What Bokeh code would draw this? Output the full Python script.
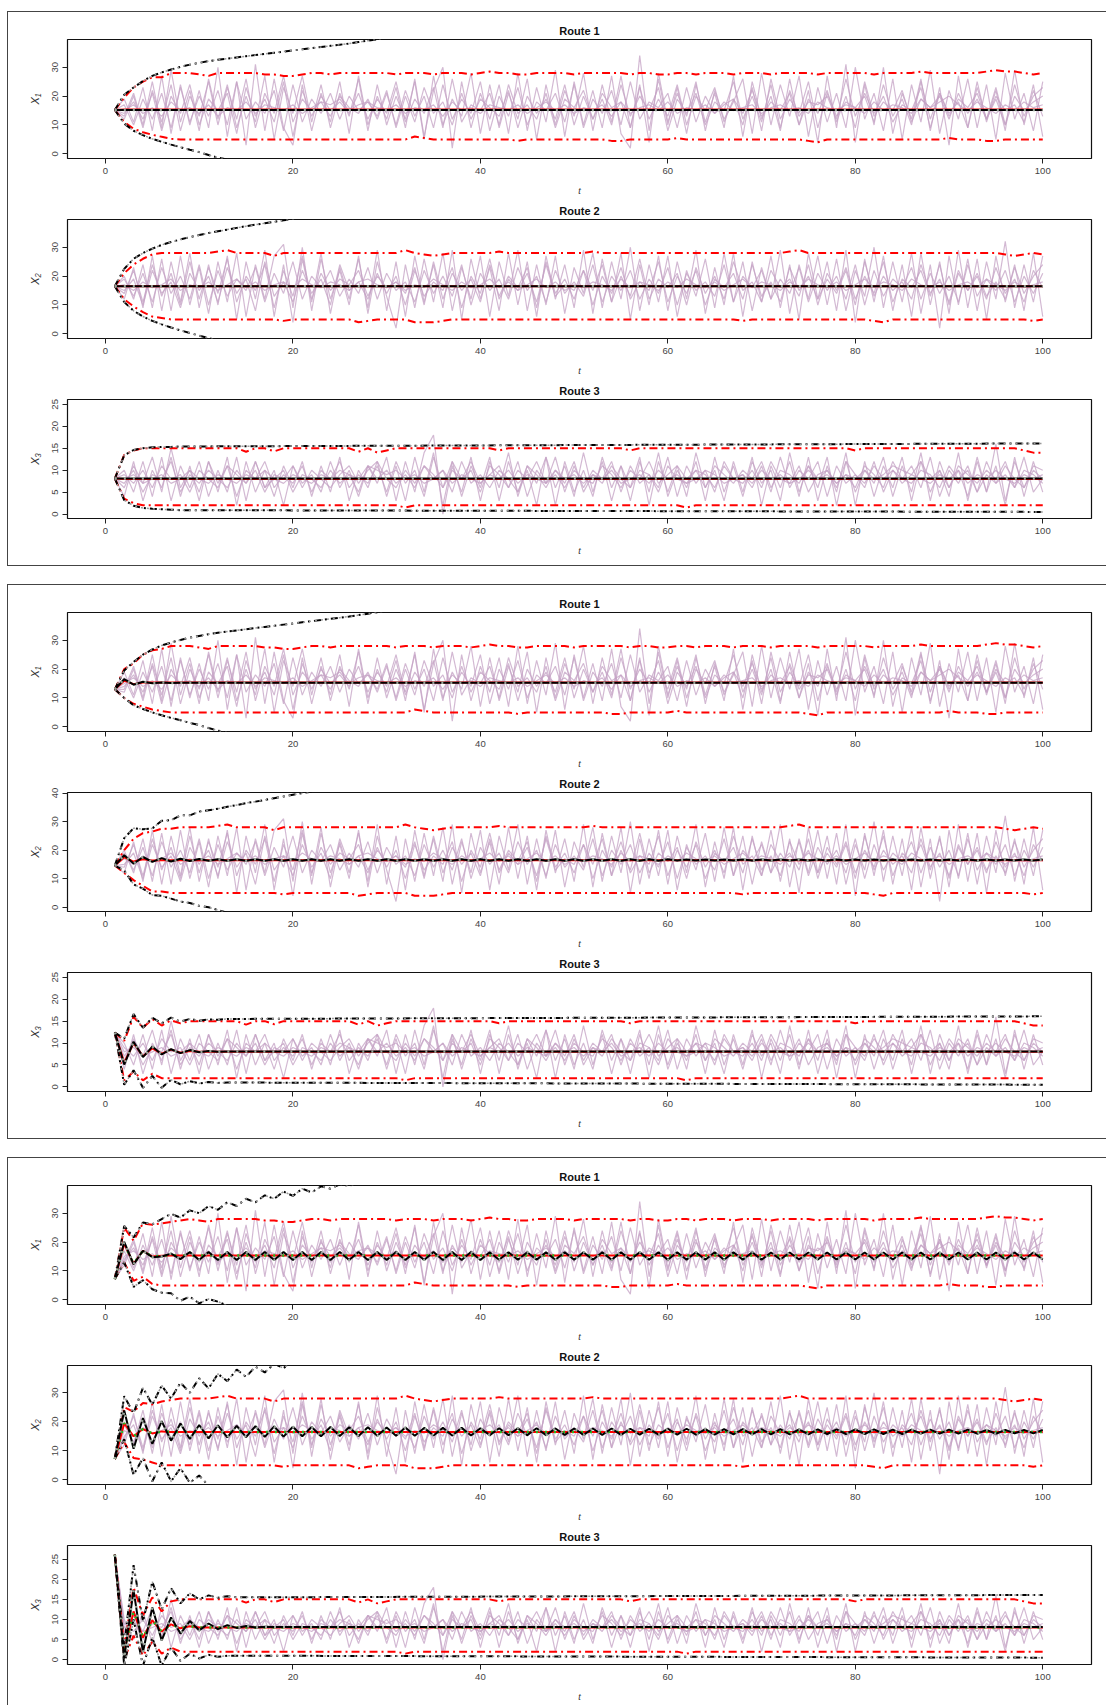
from bokeh.plotting import figure
from bokeh.models import Range1d, FixedTicker, Column
from bokeh.embed import file_html
from bokeh.resources import INLINE

# ---------------- data ----------------
t_ticks = [0, 20, 40, 60, 80, 100]
route_titles = ["Route 1", "Route 2", "Route 3"]
y_labels = ["X\u2081", "X\u2082", "X\u2083"]
y_ticks = [[[0, 10, 20, 30], [0, 10, 20, 30], [0, 5, 10, 15, 20, 25]],
           [[0, 10, 20, 30], [0, 10, 20, 30, 40], [0, 5, 10, 15, 20, 25]],
           [[0, 10, 20, 30], [0, 10, 20, 30], [0, 5, 10, 15, 20, 25]]]
y_ranges = [[(-1.6, 39.6), (-1.6, 39.6), (-1.0, 26.1)],
            [(-1.6, 39.6), (-1.5, 40.2), (-1.05, 26.1)],
            [(-1.6, 39.6), (-1.6, 39.4), (-1.2, 28.4)]]

# initial state at t = 1 (panel x route)
x0 = [[15.2, 16.5, 8.1],
      [13.0, 14.6, 12.4],
      [7.2, 7.2, 26.1]]

# observed trajectories, t = 2..100 (shared by the three panels)
pink_r1 = [
    [19, 11, 23, 8, 27, 7, 24, 10, 22, 9, 30, 6, 25, 3, 31, 8, 26, 9, 3, 24,
     8, 21, 11, 25, 7, 27, 10, 20, 12, 23, 9, 26, 6, 22, 30, 2, 25, 9, 21, 12,
     24, 7, 28, 8, 23, 11, 29, 6, 25, 10, 22, 9, 27, 7, 2, 34, 8, 26, 10, 23,
     7, 24, 11, 21, 9, 27, 6, 25, 12, 20, 8, 26, 10, 22, 4, 27, 9, 31, 4, 24,
     10, 30, 7, 21, 12, 26, 8, 23, 3, 27, 9, 25, 11, 22, 8, 29, 10, 24, 6],
    [12, 20, 9, 22, 11, 24, 8, 20, 13, 25, 10, 23, 12, 26, 9, 21, 14, 27, 11, 19,
     15, 18, 13, 20, 16, 14, 19, 12, 21, 10, 22, 13, 20, 9, 24, 12, 19, 14, 25, 8,
     20, 13, 23, 10, 18, 15, 21, 11, 24, 9, 19, 14, 22, 10, 25, 12, 18, 16, 21, 9,
     23, 11, 20, 14, 17, 19, 10, 23, 8, 26, 12, 19, 14, 25, 9, 21, 13, 18, 16, 20,
     11, 24, 13, 19, 10, 25, 12, 21, 14, 18, 9, 23, 12, 20, 15, 17, 11, 22, 13],
    [15, 17, 14, 16, 13, 18, 15, 16, 14, 17, 13, 16, 15, 18, 14, 17, 16, 15, 17, 14,
     16, 18, 17, 19, 15, 17, 18, 16, 15, 17, 14, 16, 15, 17, 13, 18, 15, 16, 14, 17,
     16, 15, 17, 14, 16, 18, 15, 17, 14, 16, 15, 17, 13, 18, 14, 16, 17, 15, 18, 14,
     16, 15, 17, 14, 18, 15, 16, 17, 14, 16, 17, 15, 16, 14, 18, 16, 15, 17, 16, 14,
     18, 15, 17, 16, 14, 19, 16, 18, 20, 17, 15, 18, 16, 14, 17, 15, 18, 16, 17],
    [13, 21, 10, 25, 9, 29, 11, 22, 8, 26, 12, 24, 9, 20, 11, 27, 5, 23, 14, 27,
     11, 24, 9, 21, 13, 26, 8, 24, 10, 20, 12, 25, 5, 27, 10, 19, 13, 28, 7, 24,
     9, 21, 12, 26, 5, 24, 10, 22, 13, 28, 8, 24, 11, 27, 9, 24, 4, 28, 11, 21,
     13, 25, 8, 22, 12, 18, 26, 7, 28, 10, 24, 13, 27, 6, 23, 11, 21, 9, 30, 12,
     21, 8, 26, 5, 24, 11, 29, 7, 22, 12, 26, 9, 24, 5, 28, 12, 21, 8, 25],
    [17, 10, 19, 12, 21, 9, 23, 11, 20, 13, 22, 10, 25, 12, 18, 14, 22, 8, 24, 11,
     19, 14, 21, 12, 20, 15, 18, 13, 22, 9, 20, 11, 23, 14, 18, 10, 21, 12, 19, 16,
     13, 22, 9, 20, 14, 19, 12, 24, 10, 20, 12, 21, 16, 18, 9, 23, 12, 19, 13, 24,
     10, 20, 15, 23, 11, 19, 14, 22, 13, 18, 15, 21, 10, 19, 14, 22, 11, 20, 9, 25,
     13, 18, 15, 22, 11, 19, 16, 20, 12, 21, 14, 19, 12, 23, 10, 20, 15, 18, 20],
    [14, 18, 12, 21, 8, 20, 14, 24, 10, 19, 15, 21, 7, 23, 13, 19, 11, 25, 6, 22,
     13, 20, 15, 18, 14, 21, 12, 19, 14, 25, 11, 19, 14, 23, 9, 26, 11, 17, 15, 21,
     10, 24, 14, 17, 12, 21, 9, 19, 16, 22, 12, 19, 10, 24, 13, 20, 15, 23, 8, 19,
     14, 21, 10, 18, 15, 25, 12, 20, 11, 24, 9, 22, 13, 18, 17, 20, 12, 26, 13, 21,
     14, 20, 11, 17, 15, 23, 9, 21, 13, 19, 16, 21, 12, 19, 10, 24, 13, 20, 23],
]
pink_r2 = [
    [20, 12, 24, 9, 26, 8, 27, 10, 23, 7, 25, 11, 28, 6, 24, 12, 27, 31, 9, 30,
     8, 26, 12, 22, 10, 27, 7, 25, 13, 2, 24, 9, 26, 11, 28, 8, 23, 12, 27, 6,
     25, 13, 29, 8, 24, 10, 27, 7, 23, 14, 28, 9, 25, 12, 30, 8, 24, 11, 27, 6,
     22, 13, 26, 9, 28, 11, 25, 8, 23, 12, 29, 7, 24, 12, 27, 10, 26, 8, 22, 13,
     30, 9, 25, 11, 28, 7, 24, 2, 27, 10, 26, 8, 25, 12, 32, 9, 24, 11, 27],
    [14, 22, 11, 24, 13, 21, 10, 25, 12, 23, 14, 26, 11, 20, 15, 24, 9, 22, 13, 27,
     12, 21, 15, 19, 17, 22, 13, 20, 16, 18, 14, 23, 10, 25, 12, 21, 15, 19, 11, 24,
     13, 20, 16, 23, 9, 25, 14, 19, 12, 22, 15, 24, 11, 20, 13, 26, 12, 19, 16, 21,
     10, 23, 14, 20, 12, 25, 15, 18, 11, 22, 16, 19, 13, 24, 10, 21, 15, 23, 12, 20,
     14, 25, 11, 19, 16, 22, 13, 24, 10, 21, 15, 20, 12, 23, 14, 19, 11, 22, 16],
    [17, 15, 18, 16, 17, 19, 15, 17, 16, 18, 15, 17, 19, 16, 18, 15, 17, 18, 16, 19,
     17, 16, 18, 17, 15, 18, 19, 17, 16, 18, 15, 17, 16, 19, 17, 15, 18, 16, 17, 19,
     16, 18, 15, 17, 19, 16, 18, 15, 17, 16, 18, 17, 15, 19, 16, 18, 17, 15, 18, 16,
     19, 17, 16, 18, 15, 17, 19, 16, 18, 17, 15, 18, 16, 19, 17, 16, 18, 15, 17, 19,
     16, 18, 17, 15, 19, 17, 16, 18, 15, 17, 18, 16, 19, 17, 15, 18, 16, 17, 18],
    [12, 23, 9, 27, 8, 25, 11, 28, 9, 24, 10, 27, 5, 25, 12, 29, 6, 24, 4, 26,
     11, 28, 7, 23, 12, 26, 9, 29, 8, 25, 6, 27, 11, 24, 9, 29, 5, 26, 12, 23,
     8, 28, 10, 25, 6, 27, 12, 24, 9, 29, 7, 26, 11, 28, 5, 24, 10, 27, 8, 25,
     12, 29, 7, 23, 10, 28, 6, 25, 11, 27, 9, 24, 5, 28, 12, 25, 8, 29, 4, 26,
     11, 27, 8, 24, 6, 28, 10, 25, 7, 29, 9, 26, 5, 27, 11, 24, 8, 28, 6],
    [19, 13, 21, 11, 23, 14, 20, 12, 24, 10, 22, 13, 19, 15, 23, 11, 21, 14, 25, 12,
     20, 16, 22, 13, 19, 14, 23, 12, 21, 15, 18, 11, 22, 14, 20, 13, 24, 10, 21, 15,
     19, 12, 23, 15, 20, 11, 22, 14, 18, 13, 24, 11, 20, 15, 22, 12, 19, 14, 23, 10,
     21, 15, 18, 13, 24, 11, 20, 16, 22, 12, 19, 14, 23, 11, 21, 15, 20, 12, 24, 10,
     22, 13, 19, 16, 23, 12, 21, 14, 20, 11, 24, 13, 19, 15, 22, 11, 20, 14, 21],
    [15, 19, 10, 22, 14, 18, 9, 21, 15, 20, 11, 23, 14, 19, 8, 25, 13, 18, 11, 22,
     14, 19, 10, 24, 15, 18, 12, 21, 14, 20, 10, 22, 13, 18, 15, 23, 9, 20, 14, 26,
     12, 19, 15, 21, 11, 24, 13, 17, 15, 22, 10, 20, 14, 23, 12, 18, 15, 25, 11, 20,
     14, 22, 10, 19, 16, 21, 12, 24, 13, 18, 11, 23, 15, 20, 12, 19, 14, 22, 10, 25,
     13, 20, 15, 18, 12, 24, 14, 19, 11, 22, 15, 21, 13, 18, 12, 23, 14, 20, 24],
]
pink_r3 = [
    [10, 5, 12, 4, 13, 3, 11, 6, 12, 4, 10, 5, 13, 3, 12, 6, 10, 2, 11, 7,
     9, 5, 12, 6, 10, 4, 11, 7, 13, 3, 12, 5, 14, 18, 0, 11, 5, 13, 3, 12,
     6, 14, 4, 11, 7, 13, 2, 12, 5, 10, 4, 13, 6, 11, 3, 12, 5, 14, 4, 10,
     6, 12, 3, 13, 5, 11, 4, 12, 7, 10, 3, 14, 5, 11, 6, 13, 2, 12, 5, 10,
     7, 13, 4, 11, 5, 14, 3, 12, 6, 10, 4, 13, 5, 16, 3, 12, 6, 11, 10],
    [6, 11, 7, 13, 5, 15, 6, 10, 5, 12, 7, 11, 4, 10, 8, 12, 6, 9, 7, 11,
     5, 10, 8, 12, 6, 9, 7, 11, 5, 12, 7, 10, 4, 13, 6, 12, 8, 10, 5, 11,
     9, 6, 12, 4, 10, 7, 13, 5, 11, 6, 10, 8, 12, 5, 11, 7, 9, 6, 13, 4,
     11, 7, 10, 5, 12, 8, 9, 6, 11, 5, 13, 6, 10, 8, 12, 4, 11, 7, 9, 6,
     12, 5, 10, 8, 11, 6, 13, 4, 10, 7, 11, 5, 12, 7, 9, 6, 13, 5, 8],
    [8, 9, 7, 8, 9, 7, 8, 10, 8, 7, 9, 8, 7, 9, 8, 10, 8, 7, 9, 8,
     7, 9, 8, 10, 9, 8, 11, 10, 9, 10, 8, 9, 7, 8, 10, 7, 9, 8, 7, 9,
     8, 10, 7, 9, 8, 7, 10, 8, 9, 7, 9, 8, 10, 7, 8, 9, 7, 10, 8, 9,
     7, 8, 10, 9, 7, 8, 9, 7, 10, 8, 9, 7, 8, 10, 8, 9, 7, 9, 8, 10,
     8, 9, 11, 10, 9, 8, 7, 9, 8, 10, 7, 9, 8, 10, 8, 7, 9, 8, 9],
    [4, 12, 3, 10, 6, 13, 4, 11, 3, 12, 5, 13, 2, 12, 5, 10, 4, 11, 6, 12,
     4, 11, 5, 13, 3, 10, 6, 12, 4, 11, 3, 13, 5, 14, 2, 12, 4, 11, 6, 13,
     3, 12, 5, 10, 2, 13, 6, 11, 4, 14, 5, 12, 3, 11, 6, 13, 2, 12, 5, 11,
     4, 14, 6, 10, 3, 12, 5, 13, 2, 11, 6, 12, 4, 13, 3, 11, 5, 14, 2, 12,
     4, 11, 6, 13, 3, 12, 5, 10, 4, 14, 3, 12, 5, 11, 2, 13, 4, 12, 5],
    [9, 7, 10, 6, 11, 8, 9, 5, 10, 8, 6, 11, 9, 7, 10, 5, 9, 8, 11, 6,
     10, 8, 6, 9, 11, 7, 10, 12, 8, 6, 10, 7, 11, 9, 6, 10, 8, 12, 7, 9,
     11, 6, 10, 8, 12, 7, 9, 6, 10, 8, 7, 11, 9, 6, 10, 8, 12, 7, 9, 11,
     8, 10, 6, 11, 9, 7, 10, 8, 12, 6, 10, 9, 7, 11, 8, 10, 6, 12, 9, 7,
     11, 8, 10, 7, 9, 12, 8, 10, 6, 11, 9, 7, 10, 8, 12, 6, 10, 9, 7],
    [7, 10, 5, 9, 8, 12, 5, 9, 7, 10, 8, 6, 10, 7, 12, 6, 8, 10, 5, 9,
     8, 6, 10, 7, 9, 5, 11, 8, 10, 7, 9, 6, 11, 8, 10, 5, 12, 7, 9, 6,
     10, 8, 5, 11, 9, 6, 10, 7, 12, 5, 9, 7, 11, 8, 6, 10, 9, 5, 11, 8,
     7, 10, 9, 6, 11, 8, 7, 10, 6, 12, 8, 7, 11, 5, 9, 10, 7, 9, 6, 11,
     9, 6, 12, 8, 7, 10, 9, 6, 11, 8, 10, 5, 9, 7, 11, 8, 6, 10, 8],
]
pink = [pink_r1, pink_r2, pink_r3]

# empirical quantile bands: t = 1..8 per panel, then shared t = 9..100
red_up_head = [
    [[15.2, 19.5, 23, 25, 26.5, 26.5, 28, 28], [16.5, 21, 24, 26, 27.5, 28, 28, 28], [8.1, 13.5, 14.5, 15, 15, 15, 15, 15]],
    [[13, 20, 22, 25, 26.5, 27, 28, 28], [14.6, 20, 24, 26, 26.5, 27.5, 27.5, 28], [12.4, 10.5, 16, 13.5, 15.5, 14, 15.2, 14.5]],
    [[7.2, 25, 20.5, 26.5, 26, 26.5, 27, 27.5], [7.2, 25, 23.5, 26.5, 26, 27, 27.5, 28], [26.1, 3, 18, 11, 15.5, 12, 14.5, 15]],
]
red_lo_head = [
    [[15.2, 11, 8.7, 7.5, 6.6, 5.9, 5.2, 5], [16.5, 12, 9.5, 7.5, 6, 5.5, 5, 5], [8.1, 3.5, 2.5, 2, 2, 2, 2, 2]],
    [[13, 10, 8, 7, 6, 5.5, 5, 5], [14.6, 12, 9.5, 7.5, 5.5, 5.5, 5, 5], [12.4, 1.5, 3.5, 1.5, 3, 2, 2, 2]],
    [[7.2, 13, 6.6, 8, 5.5, 5, 5, 5], [7.2, 13, 7.5, 7, 6, 5, 5, 5], [26.1, 0, 6, 1, 4.5, 1.5, 3, 2]],
]
red_up_tail = [
    [28, 27.5, 27, 28, 28, 28, 28, 28, 27.5, 27.5, 27, 27, 27.5, 28, 28, 27.5, 28, 28, 28, 28,
     28, 28, 27.5, 28, 28, 28, 27.5, 28, 28, 28, 27.5, 28, 28.5, 28, 28, 27.5, 27.5, 28, 28, 28,
     28, 27.5, 28, 28, 28, 28, 28, 27.5, 28, 28, 27.5, 27.5, 28, 28, 27.5, 28, 28, 28, 27.5, 28,
     28, 28, 27.5, 28, 28, 28, 28, 27.5, 28, 28, 28, 28, 28, 27.5, 28, 28, 28, 28, 28.5, 28,
     28, 28, 28, 28, 28, 28.5, 29, 28.5, 28.5, 28, 27.5, 28],
    [28, 28, 28, 28.5, 29, 28, 28, 28, 28, 27, 28, 28, 28, 28, 28, 28, 28, 28, 28, 28,
     28, 28, 28, 29, 28, 27.5, 27, 27.5, 28, 28, 28, 28, 28, 28.5, 28, 28, 28, 28, 28, 28,
     28, 28, 28, 28.5, 28, 28, 28, 28, 28, 28, 28, 28, 28, 28, 28, 28, 28, 28, 28, 28,
     28, 28, 28, 28, 28.5, 29, 28, 28, 28, 28, 28, 28, 28, 28, 28, 28, 28, 28, 28, 28,
     28, 28, 28, 28, 28, 28, 28, 27.5, 27, 27.5, 28, 27.5],
    [15, 15, 15, 15, 15, 15, 14.2, 15, 15, 14.3, 15, 15, 15, 15, 15, 15, 15, 15, 14.2, 15,
     14, 14.5, 15, 15, 15, 15, 15, 15, 15, 15, 15, 15, 15, 14.5, 15, 15, 15, 15, 15, 15,
     15, 15, 15, 15, 15, 15, 15, 14.5, 15, 15, 15, 15, 15, 15, 15, 15, 15, 15, 15, 15,
     15, 15, 15, 15, 15, 15, 15, 15, 15, 15, 15, 14.5, 15, 15, 15, 15, 15, 15, 15, 15,
     15, 15, 15, 15, 15, 15, 15, 15, 15, 14.5, 14, 14],
]
red_lo_tail = [
    [5, 5, 5, 5, 5, 5, 5, 5, 5, 5, 5, 5, 5, 5, 5, 5, 5, 5, 5, 5,
     5, 5, 5, 5, 6, 5.5, 5, 5, 5, 5, 5, 5, 5, 5, 5, 4.5, 5, 5, 5, 5,
     5, 5, 5, 5, 5, 4.5, 4.5, 5, 5, 5, 5, 5, 5.5, 5, 5, 5, 5, 5, 5, 5,
     5, 5, 5, 5, 5, 5, 4.5, 4, 5, 5, 5, 5, 5, 5, 5, 5, 5, 5, 5, 5,
     5, 5.5, 5, 5, 5, 4.5, 4.5, 5, 5, 5, 5, 5],
    [5, 5, 5, 5, 5, 5, 5, 5, 5, 5, 4.5, 5, 5, 5, 5, 5, 5, 5, 4, 4.5,
     5, 5, 5, 5, 4, 4, 4, 4.5, 5, 5, 5, 5, 5, 5, 5, 5, 5, 5, 5, 5,
     5, 5, 5, 5, 5, 5, 5, 5, 5, 5, 5, 5, 5, 5, 5, 5, 5, 5, 5, 4.5,
     5, 5, 5, 5, 5, 5, 5, 5, 5, 5, 5, 5, 5, 4.5, 4, 5, 5, 5, 5, 5,
     5, 5, 5, 5, 5, 5, 5, 5, 5, 5, 4.5, 5],
    [2, 2, 2, 2, 2, 2, 2, 2, 2, 2, 2, 2, 2, 2, 2, 2, 2, 2, 2, 2,
     2, 2, 2, 1.5, 2, 2, 2, 2, 2, 2, 2, 2, 2, 2, 2, 2, 2, 2, 2, 2,
     2, 2, 2, 2, 2, 2, 2, 2, 2, 2, 2, 2, 2, 1.5, 2, 2, 2, 2, 2, 2,
     2, 2, 2, 2, 2, 2, 2, 2, 2, 2, 2, 2, 2, 2, 2, 2, 2, 2, 2, 2,
     2, 2, 2, 2, 2, 2, 2, 2, 2, 2, 2, 2],
]
# empirical mean: early values per panel, then a level held to t = 100
red_mean_head = [
    [[15.2], [16.5], [8.1]],
    [[13, 16, 14.8, 15.4], [14.6, 17.5, 16, 16.8, 16.4], [12.4, 5.5, 10, 7, 8.8, 7.6, 8.5, 7.8, 8.2]],
    [[7.2, 19.5, 12.5, 17, 15, 15.3], [7.2, 19.5, 15, 17.5, 16, 16.7], [26.1, 2, 12, 5.5, 9.8, 7, 8.8, 7.8, 8.3]],
]
red_mean_level = [15.4, 16.5, 8.0]

# model mean (held at its last value up to t = 100 when shorter)
blk_mean = [
    [[15.2], [16.5], [8.1]],
    [[13, 16.5, 14.6, 15.6, 15.1, 15.4, 15.2, 15.3],
     [14.6, 18.2, 15.3, 17.6, 15.9, 17.2, 16.0, 17.0, 16.2, 16.9,
      16.3, 16.8, 16.3, 16.8, 16.3, 16.8, 16.3, 16.8, 16.3, 16.8,
      16.3, 16.8, 16.3, 16.8, 16.3, 16.8, 16.3, 16.8, 16.3, 16.8,
      16.3, 16.8, 16.3, 16.8, 16.3, 16.8, 16.3, 16.8, 16.3, 16.8,
      16.3, 16.8, 16.3, 16.8, 16.3, 16.8, 16.3, 16.8, 16.3, 16.8,
      16.3, 16.8, 16.3, 16.8, 16.3, 16.8, 16.3, 16.8, 16.3, 16.8,
      16.4, 16.7, 16.4, 16.7, 16.4, 16.7, 16.4, 16.7, 16.4, 16.7,
      16.4, 16.7, 16.4, 16.7, 16.4, 16.7, 16.4, 16.7, 16.4, 16.7,
      16.4, 16.7, 16.4, 16.7, 16.4, 16.7, 16.4, 16.7, 16.4, 16.7,
      16.4, 16.7, 16.4, 16.7, 16.4, 16.7, 16.4, 16.7, 16.4, 16.7],
     [12.4, 5.1, 10.3, 6.8, 9.2, 7.4, 8.6, 7.7, 8.4, 7.9, 8.2, 8.0, 8.1]],
    [[7.2, 20.1, 12.3, 17.0, 14.8, 15.0, 16.0, 14.1, 16.6, 13.8,
      16.6, 13.8, 16.6, 13.8, 16.6, 13.8, 16.6, 13.8, 16.6, 13.8,
      16.6, 13.8, 16.6, 13.8, 16.6, 13.8, 16.6, 13.8, 16.6, 13.8,
      16.6, 13.8, 16.6, 13.8, 16.6, 13.8, 16.6, 13.8, 16.6, 13.8,
      16.5, 13.9, 16.5, 13.9, 16.5, 13.9, 16.5, 13.9, 16.5, 13.9,
      16.5, 13.9, 16.5, 13.9, 16.5, 13.9, 16.5, 13.9, 16.5, 13.9,
      16.5, 13.9, 16.5, 13.9, 16.5, 13.9, 16.5, 13.9, 16.5, 13.9,
      16.4, 14.0, 16.4, 14.0, 16.4, 14.0, 16.4, 14.0, 16.4, 14.0,
      16.4, 14.0, 16.4, 14.0, 16.4, 14.0, 16.4, 14.0, 16.4, 14.0,
      16.4, 14.0, 16.4, 14.0, 16.4, 14.0, 16.4, 14.0, 16.4, 14.0],
     [7.2, 23.9, 10.7, 21.3, 12.4, 20.2, 13.5, 19.4, 14.1, 18.9,
      14.3, 18.8, 14.6, 18.6, 14.7, 18.5, 14.8, 18.4, 14.9, 18.3,
      15.0, 18.2, 15.0, 18.2, 15.1, 18.1, 15.1, 18.1, 15.2, 18.0,
      15.2, 18.0, 15.2, 17.9, 15.3, 17.9, 15.3, 17.9, 15.3, 17.8,
      15.4, 17.8, 15.4, 17.8, 15.4, 17.8, 15.4, 17.7, 15.5, 17.7,
      15.5, 17.7, 15.5, 17.7, 15.5, 17.6, 15.6, 17.6, 15.6, 17.6,
      15.6, 17.6, 15.6, 17.5, 15.6, 17.5, 15.7, 17.5, 15.7, 17.5,
      15.7, 17.5, 15.7, 17.4, 15.7, 17.4, 15.8, 17.4, 15.8, 17.4,
      15.8, 17.4, 15.8, 17.3, 15.8, 17.3, 15.9, 17.3, 15.9, 17.3,
      15.9, 17.3, 15.9, 17.2, 15.9, 17.2, 16.0, 17.2, 16.0, 17.2],
     [26.1, 0.3, 17.3, 1.9, 13.0, 4.8, 10.5, 6.5, 9.6, 7.3, 9.0, 7.6, 8.6, 7.9, 8.4, 8.0, 8.2, 8.1]],
]

# model prediction bands from t = 1; route 3 bands end at t = 100 on the *_end value
blk_up = [
    [[15.2, 20.5, 23.0, 25.2, 27.0, 28.2, 29.2, 30.1, 30.9, 31.5, 32.1, 32.6, 33.0, 33.4, 33.8,
      34.2, 34.6, 35.0, 35.4, 35.8, 36.2, 36.6, 37.0, 37.4, 37.8, 38.2, 38.7, 39.2, 39.7, 40.2],
     [16.5, 22.5, 26.0, 28.0, 29.5, 30.8, 31.8, 32.7, 33.5, 34.2, 34.9, 35.5, 36.1, 36.7, 37.3,
      37.8, 38.3, 38.8, 39.3, 39.8, 40.3],
     [8.1, 13.4, 14.6, 15.0, 15.2, 15.3, 15.3, 15.4]],
    [[13.0, 19.5, 22.5, 25.0, 26.8, 28.2, 29.2, 30.1, 30.9, 31.5, 32.1, 32.6, 33.0, 33.4, 33.8,
      34.2, 34.6, 35.0, 35.4, 35.8, 36.2, 36.6, 37.0, 37.4, 37.8, 38.2, 38.7, 39.2, 39.7, 40.2],
     [14.6, 24.2, 27.7, 27.3, 27.6, 30.3, 30.5, 32.2, 32.2, 33.5, 34.0, 34.5, 35.2, 35.8, 36.5,
      37.0, 37.6, 38.2, 38.8, 39.4, 40.0, 40.5],
     [12.4, 11.0, 16.6, 13.5, 15.8, 14.5, 15.8, 14.9, 15.5, 15.1, 15.4, 15.3, 15.5]],
    [[7.2, 25.6, 21.6, 26.8, 26.2, 28.0, 29.8, 28.5, 31.0, 30.0, 32.5, 31.2, 33.8, 32.5, 35.0,
      33.8, 36.2, 35.0, 37.5, 36.0, 38.5, 37.2, 39.3, 38.5, 40.0, 39.5, 40.5],
     [7.2, 28.8, 23.0, 31.7, 25.9, 32.5, 28.0, 33.5, 30.0, 35.0, 31.5, 36.5, 34.0, 38.0, 35.5,
      39.0, 37.0, 40.0, 38.5, 41.0],
     [26.1, 3.5, 23.5, 9.5, 19.4, 12.5, 17.8, 14.0, 16.5, 15.0, 16.0, 15.4, 15.8, 15.5]],
]
blk_lo = [
    [[15.2, 10.5, 8.0, 6.5, 5.2, 4.2, 3.2, 2.3, 1.4, 0.6, -0.4, -1.3, -2.0],
     [16.5, 11.0, 8.0, 6.0, 4.5, 3.3, 2.2, 1.2, 0.3, -0.6, -1.5, -2.3],
     [8.1, 3.2, 1.9, 1.4, 1.2, 1.1, 1.0, 0.9]],
    [[13.0, 10.0, 7.5, 6.2, 5.0, 4.0, 3.1, 2.3, 1.4, 0.6, -0.4, -1.3, -2.0],
     [14.6, 12.9, 8.0, 6.5, 4.3, 4.0, 3.0, 2.0, 1.5, 0.5, 0.0, -1.0, -2.0],
     [12.4, 0.5, 3.8, -0.2, 2.5, -0.2, 1.6, 0.6, 1.3, 0.8, 1.1, 0.9, 1.0]],
    [[7.2, 13.0, 4.5, 6.8, 3.7, 2.5, 2.3, -0.3, 1.1, -1.2, 0.3, -0.6, -2.0],
     [7.2, 14.0, 1.7, 7.5, -0.5, 6.0, -0.5, 4.0, -1.0, 1.5, -2.0],
     [26.1, -1.5, 10.0, -1.5, 5.5, -1.5, 3.0, -0.3, 1.5, 0.3, 1.2, 0.7, 1.0]],
]
blk_up_end = [[None, None, 16.1], [None, None, 16.1], [None, None, 16.1]]
blk_lo_end = [[None, None, 0.5], [None, None, 0.5], [None, None, 0.5]]

# ---------------- styling ----------------
FONT = "Liberation Sans"
PINK = "#C4A2C4"
RED = "#FF0000"
DASHDOT = "8 4 2 4"


def series(vals, end_val=None, hold=False):
    xs = list(range(1, len(vals) + 1))
    ys = list(vals)
    if end_val is not None:
        xs.append(100)
        ys.append(end_val)
    elif hold and len(vals) < 100:
        xs.append(100)
        ys.append(vals[-1])
    return xs, ys


def make_fig(pi, ri):
    top = 27 if ri == 0 else 20
    if ri == 2:
        bottom = 47 if pi < 2 else 41
    else:
        bottom = 41
    p = figure(frame_width=1024, frame_height=119,
               x_range=Range1d(-4.05, 105.2), y_range=Range1d(*y_ranges[pi][ri]),
               output_backend="svg", toolbar_location=None,
               min_border_left=59, min_border_right=15,
               min_border_top=top, min_border_bottom=bottom)
    p.title.text = route_titles[ri]
    p.title.align = "center"
    p.title.text_font = FONT
    p.title.text_font_size = "11px"
    p.title.text_font_style = "bold"
    p.title.text_color = "#111111"
    p.title.standoff = 5
    p.xgrid.visible = False
    p.ygrid.visible = False
    p.outline_line_color = "#111111"
    p.outline_line_width = 1.2
    p.background_fill_color = "white"
    p.border_fill_color = "white"

    for ax in (p.xaxis[0], p.yaxis[0]):
        ax.axis_line_color = None
        ax.major_tick_in = 0
        ax.major_tick_out = 5
        ax.major_tick_line_color = "#222222"
        ax.minor_tick_line_color = None
        ax.major_label_text_font = FONT
        ax.major_label_text_font_size = "9.5px"
        ax.major_label_text_color = "#444444"
        ax.major_label_standoff = 4
        ax.axis_label_text_font = FONT
        ax.axis_label_text_font_style = "italic"
        ax.axis_label_text_color = "#333333"
    p.xaxis.ticker = FixedTicker(ticks=t_ticks)
    p.xaxis.axis_label = "t"
    p.xaxis.axis_label_text_font_size = "9px"
    p.xaxis.axis_label_standoff = 9
    p.yaxis.ticker = FixedTicker(ticks=y_ticks[pi][ri])
    p.yaxis.major_label_orientation = "vertical"
    p.yaxis.axis_label = y_labels[ri]
    p.yaxis.axis_label_text_font_size = "11px"
    p.yaxis.axis_label_standoff = 9

    # observed trajectories
    xs, ys = [], []
    for traj in pink[ri]:
        xs.append([1] + list(range(2, 2 + len(traj))))
        ys.append([x0[pi][ri]] + list(traj))
    p.multi_line(xs, ys, line_color=PINK, line_alpha=0.75, line_width=1.2)

    # empirical bands and mean
    for head, tail in ((red_up_head, red_up_tail), (red_lo_head, red_lo_tail)):
        bx, by = series(head[pi][ri] + tail[ri])
        p.line(bx, by, line_color=RED, line_width=2, line_dash=DASHDOT)
    mh = red_mean_head[pi][ri]
    mx = list(range(1, len(mh) + 1)) + [len(mh) + 1, 100]
    my = list(mh) + [red_mean_level[ri], red_mean_level[ri]]
    p.line(mx, my, line_color=RED, line_width=2)
    if pi == 2:
        p.line(mx, my, line_color="#22BB22", line_width=2.5, line_dash="2 7")

    # model bands
    for band, end in ((blk_up, blk_up_end), (blk_lo, blk_lo_end)):
        bx, by = series(band[pi][ri], end[pi][ri])
        p.line(bx, by, line_color="black", line_width=2, line_dash="7 4 2 4")
        p.line(bx, by, line_color="#999999", line_width=1.5, line_dash="2 4")

    # model mean
    kx, ky = series(blk_mean[pi][ri], hold=True)
    p.line(kx, ky, line_color="black", line_width=2)
    p.line(kx, ky, line_color="#9AA59A", line_width=2.5, line_dash="2 7")
    return p


panels = []
for pi in range(3):
    figs = [make_fig(pi, ri) for ri in range(3)]
    sty = {"border-top": "1px solid #444", "border-left": "1px solid #444"}
    if pi < 2:
        sty["border-bottom"] = "1px solid #444"
    panels.append(Column(children=figs, spacing=0, styles=sty))

page = Column(children=panels, spacing=18, margin=(11, 0, 0, 7))
with open("out.html", "w") as f:
    f.write(file_html(page, INLINE, title="Routes"))
